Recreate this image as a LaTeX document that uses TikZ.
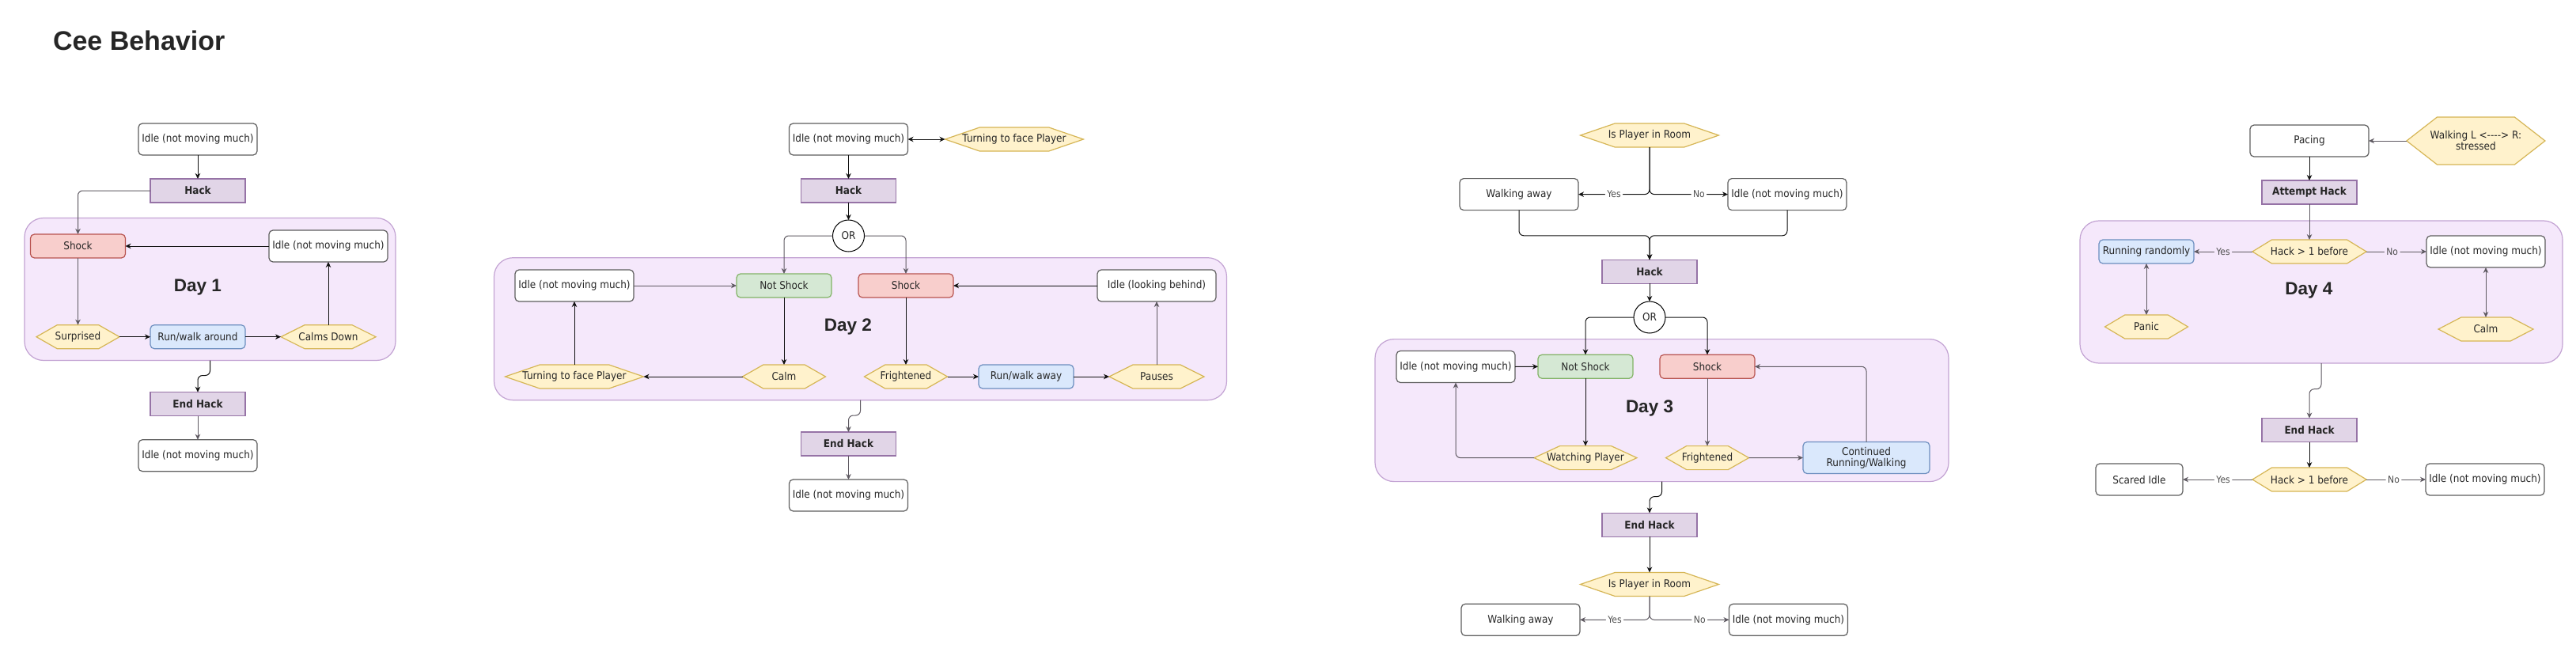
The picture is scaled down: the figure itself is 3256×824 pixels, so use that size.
\documentclass[tikz,border=0pt]{standalone}
\usepackage{fontspec}
\setmainfont{DejaVu Sans}[FakeStretch=0.9]
\newfontfamily\headfont{Liberation Sans}
\usetikzlibrary{arrows.meta,calc}
\pgfdeclarelayer{paper}
\pgfdeclarelayer{frames}
\pgfdeclarelayer{hexes}
\pgfsetlayers{paper,frames,hexes,main}
\definecolor{txt}{HTML}{262626}
\definecolor{boxline}{HTML}{5E5E5E}
\definecolor{edgec}{HTML}{111111}
\definecolor{edgeg}{HTML}{5F5A62}
\definecolor{framefill}{HTML}{F5E8FB}
\definecolor{frameline}{HTML}{C3A3D3}
\definecolor{hackfill}{HTML}{E1D5E7}
\definecolor{hackline}{HTML}{9673A6}
\definecolor{redfill}{HTML}{F8CECC}
\definecolor{redline}{HTML}{B85450}
\definecolor{greenfill}{HTML}{D5E8D4}
\definecolor{greenline}{HTML}{82B366}
\definecolor{bluefill}{HTML}{DAE8FC}
\definecolor{blueline}{HTML}{6C8EBF}
\definecolor{yelfill}{HTML}{FFF2CC}
\definecolor{yelline}{HTML}{D6B656}
\definecolor{lblc}{HTML}{4D4D4D}
\newcommand\hexshape[2]{%
  \draw[hexdraw] (#1.west) -- ($(#1.north west)!#2!(#1.north east)$) -- ($(#1.north east)!#2!(#1.north west)$)
   -- (#1.east) -- ($(#1.south east)!#2!(#1.south west)$) -- ($(#1.south west)!#2!(#1.south east)$) -- cycle;}
\tikzset{
  every node/.style={inner sep=0pt, outer sep=0pt, text=txt, align=center,
    font=\fontsize{13.4}{14}\selectfont},
  wh/.style 2 args={minimum width=#1pt, minimum height=#2pt},
  plainbox/.style={draw=boxline, fill=white, line width=1.2pt, rounded corners=5pt},
  hackbox/.style={draw=hackline, fill=hackfill, line width=1.2pt,
    font=\fontsize{13.4}{14}\selectfont\bfseries},
  redbox/.style={draw=redline, fill=redfill, line width=1.2pt, rounded corners=5pt},
  greenbox/.style={draw=greenline, fill=greenfill, line width=1.2pt, rounded corners=5pt},
  bluebox/.style={draw=blueline, fill=bluefill, line width=1.2pt, rounded corners=5pt},
  hexbox/.style={},
  hexdraw/.style={draw=yelline, fill=yelfill, line width=1.2pt},
  orbox/.style={circle, draw=black, fill=white, line width=1pt, minimum size=40pt},
  dayframe/.style={draw=frameline, fill=framefill, line width=1.2pt, rounded corners=24pt},
  daylbl/.style={anchor=base, font=\headfont\bfseries\fontsize{22.5}{26}\selectfont},
  conn/.style={draw=edgec, line width=1pt, rounded corners=6pt,
    -{Stealth[length=7pt,width=6.5pt,inset=2.2pt]}},
  conng/.style={conn, draw=edgeg},
  dconn/.style={draw=edgeg, line width=1pt,
    {Stealth[length=7pt,width=6.5pt,inset=2.2pt]}-{Stealth[length=7pt,width=6.5pt,inset=2.2pt]}},
  lbl/.style={fill=white, text=lblc, inner sep=2.5pt, font=\fontsize{12}{14}\selectfont},
}
\begin{document}
\begin{tikzpicture}[x=1pt,y=-1pt]
\begin{pgfonlayer}{paper}
\fill[white] (0,0) rectangle (3256,824);
\end{pgfonlayer}
\useasboundingbox (0,0) rectangle (3256,824);
\node[anchor=west, font=\headfont\bfseries\fontsize{34}{40}\selectfont] (title) at (67,51) {Cee Behavior};

% ---------- frames ----------
\begin{pgfonlayer}{frames}
\node[dayframe, wh={469}{180}] (d1frame) at (265.5,365.5) {};
\node[dayframe, wh={926}{180}] (d2frame) at (1087.5,415.7) {};
\node[dayframe, wh={725}{180}] (d3frame) at (2100.5,518.6) {};
\node[dayframe, wh={610}{180}] (d4frame) at (2934,369) {};
\end{pgfonlayer}

% ---------- Day 1 ----------
\node[plainbox, wh={150}{40}] (d1top) at (250,176) {Idle (not moving much)};
\node[hackbox, wh={120}{30}] (d1hack) at (250,241) {Hack};
\node[daylbl] (d1lbl) at (250,368.5) {Day 1};
\node[redbox, wh={120}{30}] (d1shock) at (98.5,311) {Shock};
\node[plainbox, wh={150}{40}] (d1idle) at (415,311) {Idle (not moving much)};
\node[hexbox, wh={105}{30}] (d1surp) at (98.5,425.7) {Surprised};
\node[bluebox, wh={120}{30}] (d1run) at (250,425.7) {Run/walk around};
\node[hexbox, wh={120}{30}] (d1calm) at (415,425.7) {Calms Down};
\node[hackbox, wh={120}{30}] (d1end) at (250,510.7) {End Hack};
\node[plainbox, wh={150}{40}] (d1bot) at (250,575.7) {Idle (not moving much)};

% ---------- Day 2 ----------
\node[plainbox, wh={150}{40}] (d2top) at (1072.5,176) {Idle (not moving much)};
\node[hexbox, wh={175}{30}] (d2turnT) at (1282,176) {Turning to face Player};
\node[hackbox, wh={120}{30}] (d2hack) at (1072.5,241) {Hack};
\node[orbox] (d2or) at (1072.5,298) {OR};
\node[daylbl] (d2lbl) at (1072,418.3) {Day 2};
\node[plainbox, wh={150}{40}] (d2idleL) at (726,361) {Idle (not moving much)};
\node[greenbox, wh={120}{30}] (d2ns) at (991,361) {Not Shock};
\node[redbox, wh={120}{30}] (d2shock) at (1145,361) {Shock};
\node[plainbox, wh={150}{40}] (d2idleR) at (1462,361) {Idle (looking behind)};
\node[hexbox, wh={175}{30}] (d2turnB) at (726,476) {Turning to face Player};
\node[hexbox, wh={105}{30}] (d2calm) at (991,476) {Calm};
\node[hexbox, wh={105}{30}] (d2fright) at (1145,476) {Frightened};
\node[bluebox, wh={120}{30}] (d2run) at (1297,476) {Run/walk away};
\node[hexbox, wh={120}{30}] (d2pause) at (1462,476) {Pauses};
\node[hackbox, wh={120}{30}] (d2end) at (1072.5,561) {End Hack};
\node[plainbox, wh={150}{40}] (d2bot) at (1072.5,626) {Idle (not moving much)};

% ---------- Day 3 ----------
\node[hexbox, wh={175}{30}] (d3q1) at (2085,171) {Is Player in Room};
\node[plainbox, wh={150}{40}] (d3walkT) at (1920,245.6) {Walking away};
\node[plainbox, wh={150}{40}] (d3idleT) at (2259,245.6) {Idle (not moving much)};
\node[hackbox, wh={120}{30}] (d3hack) at (2085,343.4) {Hack};
\node[orbox] (d3or) at (2085,401) {OR};
\node[daylbl] (d3lbl) at (2085,521) {Day 3};
\node[plainbox, wh={150}{40}] (d3idleL) at (1840,463.5) {Idle (not moving much)};
\node[greenbox, wh={120}{30}] (d3ns) at (2004,463.3) {Not Shock};
\node[redbox, wh={120}{30}] (d3shock) at (2158,463.3) {Shock};
\node[hexbox, wh={130}{30}] (d3watch) at (2004,578.6) {Watching Player};
\node[hexbox, wh={105}{30}] (d3fright) at (2158,578.6) {Frightened};
\node[bluebox, wh={160}{40}] (d3cont) at (2359,578.5) {Continued\\Running/Walking};
\node[hackbox, wh={120}{30}] (d3end) at (2085,663.4) {End Hack};
\node[hexbox, wh={175}{30}] (d3q2) at (2085,738.5) {Is Player in Room};
\node[plainbox, wh={150}{40}] (d3walkB) at (1922,783.3) {Walking away};
\node[plainbox, wh={150}{40}] (d3idleB) at (2260.5,783.3) {Idle (not moving much)};

% ---------- Day 4 ----------
\node[plainbox, wh={150}{40}] (d4pace) at (2919,178) {Pacing};
\node[hexbox, wh={175}{60}] (d4walk) at (3129.4,178) {Walking L <{-}{-}{-}{-}> R:\\stressed};
\node[hackbox, wh={120}{30}] (d4att) at (2919,243) {Attempt Hack};
\node[daylbl] (d4lbl) at (2918.4,372) {Day 4};
\node[hexbox, wh={144}{30}] (d4q1) at (2919,318) {Hack > 1 before};
\node[bluebox, wh={120}{30}] (d4run) at (2713,318) {Running randomly};
\node[plainbox, wh={150}{40}] (d4idle) at (3142,318) {Idle (not moving much)};
\node[hexbox, wh={105}{30}] (d4panic) at (2713,413) {Panic};
\node[hexbox, wh={120}{30}] (d4calm) at (3142,416) {Calm};
\node[hackbox, wh={120}{30}] (d4end) at (2919,543.5) {End Hack};
\node[hexbox, wh={144}{30}] (d4q2) at (2919,606) {Hack > 1 before};
\node[plainbox, wh={110}{40}] (d4scared) at (2704,606) {Scared Idle};
\node[plainbox, wh={150}{40}] (d4idleB) at (3141,606) {Idle (not moving much)};

% ---------- hexagon outlines ----------
\begin{pgfonlayer}{hexes}
\hexshape{d1surp}{0.25}
\hexshape{d1calm}{0.25}
\hexshape{d2turnT}{0.25}
\hexshape{d2turnB}{0.25}
\hexshape{d2calm}{0.25}
\hexshape{d2fright}{0.25}
\hexshape{d2pause}{0.25}
\hexshape{d3q1}{0.25}
\hexshape{d3watch}{0.25}
\hexshape{d3fright}{0.25}
\hexshape{d3q2}{0.25}
\hexshape{d4walk}{0.22}
\hexshape{d4q1}{0.17}
\hexshape{d4panic}{0.24}
\hexshape{d4calm}{0.24}
\hexshape{d4q2}{0.17}
\end{pgfonlayer}

% ---------- Day 1 connectors ----------
\draw[conn] (d1top.south) -- (d1hack.north);
\draw[conng] (d1hack.west) -| (d1shock.north);
\draw[conn] (d1idle.west) -- (d1shock.east);
\draw[conng] (d1shock.south) -- (d1surp.north);
\draw[conn] (d1surp.east) -- (d1run.west);
\draw[conn] (d1run.east) -- (d1calm.west);
\draw[conn] (d1calm.north) -- (d1idle.south);
\draw[conn] (d1frame.south) -- ++(0,19) -| (d1end.north);
\draw[conng] (d1end.south) -- (d1bot.north);

% ---------- Day 2 connectors ----------
\draw[dconn, draw=edgec] (d2top.east) -- (d2turnT.west);
\draw[conn] (d2top.south) -- (d2hack.north);
\draw[conn] (d2hack.south) -- (d2or.north);
\draw[conng] (d2or.west) -| (d2ns.north);
\draw[conng] (d2or.east) -| (d2shock.north);
\draw[conng] (d2idleL.east) -- (d2ns.west);
\draw[conn] (d2idleR.west) -- (d2shock.east);
\draw[conn] (d2ns.south) -- (d2calm.north);
\draw[conn] (d2calm.west) -- (d2turnB.east);
\draw[conn] (d2turnB.north) -- (d2idleL.south);
\draw[conn] (d2shock.south) -- (d2fright.north);
\draw[conn] (d2fright.east) -- (d2run.west);
\draw[conn] (d2run.east) -- (d2pause.west);
\draw[conng] (d2pause.north) -- (d2idleR.south);
\draw[conng] (d2frame.south) -- ++(0,19.3) -| (d2end.north);
\draw[conng] (d2end.south) -- (d2bot.north);

% ---------- Day 3 connectors ----------
\draw[conn] (d3q1.south) |- node[lbl, pos=0.75] {Yes} (d3walkT.east);
\draw[conn] (d3q1.south) |- node[lbl, pos=0.815] {No} (d3idleT.west);
\draw[conn] (d3walkT.south) -- ++(0,32.2) -| (d3hack.north);
\draw[conn] (d3idleT.south) -- ++(0,32.2) -| (d3hack.north);
\draw[conn] (d3hack.south) -- (d3or.north);
\draw[conn] (d3or.west) -| (d3ns.north);
\draw[conn] (d3or.east) -| (d3shock.north);
\draw[conn] (d3idleL.east) -- (d3ns.west);
\draw[conn] (d3ns.south) -- (d3watch.north);
\draw[conng] (d3watch.west) -| (d3idleL.south);
\draw[conng] (d3shock.south) -- (d3fright.north);
\draw[conng] (d3fright.east) -- (d3cont.west);
\draw[conng] (d3cont.north) |- (d3shock.east);
\draw[conn] (d3frame.south) -- ++(0,19) -| (d3end.north);
\draw[conn] (d3end.south) -- (d3q2.north);
\draw[conng] (d3q2.south) |- node[lbl, pos=0.75] {Yes} (d3walkB.east);
\draw[conng] (d3q2.south) |- node[lbl, pos=0.815] {No} (d3idleB.west);

% ---------- Day 4 connectors ----------
\draw[conng] (d4walk.west) -- (d4pace.east);
\draw[conn] (d4pace.south) -- (d4att.north);
\draw[conng] (d4att.south) -- (d4q1.north);
\draw[conng] (d4q1.west) -- node[lbl, fill=framefill] {Yes} (d4run.east);
\draw[conng] (d4q1.east) -- node[lbl, fill=framefill, pos=0.43] {No} (d4idle.west);
\draw[dconn] (d4run.south) -- (d4panic.north);
\draw[dconn] (d4idle.south) -- (d4calm.north);
\draw[conng] (d4frame.south) -- ++(0,32.7) -| (d4end.north);
\draw[conn] (d4end.south) -- (d4q2.north);
\draw[conng] (d4q2.west) -- node[lbl, pos=0.42] {Yes} (d4scared.east);
\draw[conng] (d4q2.east) -- node[lbl, pos=0.46] {No} (d4idleB.west);
\end{tikzpicture}
\end{document}
